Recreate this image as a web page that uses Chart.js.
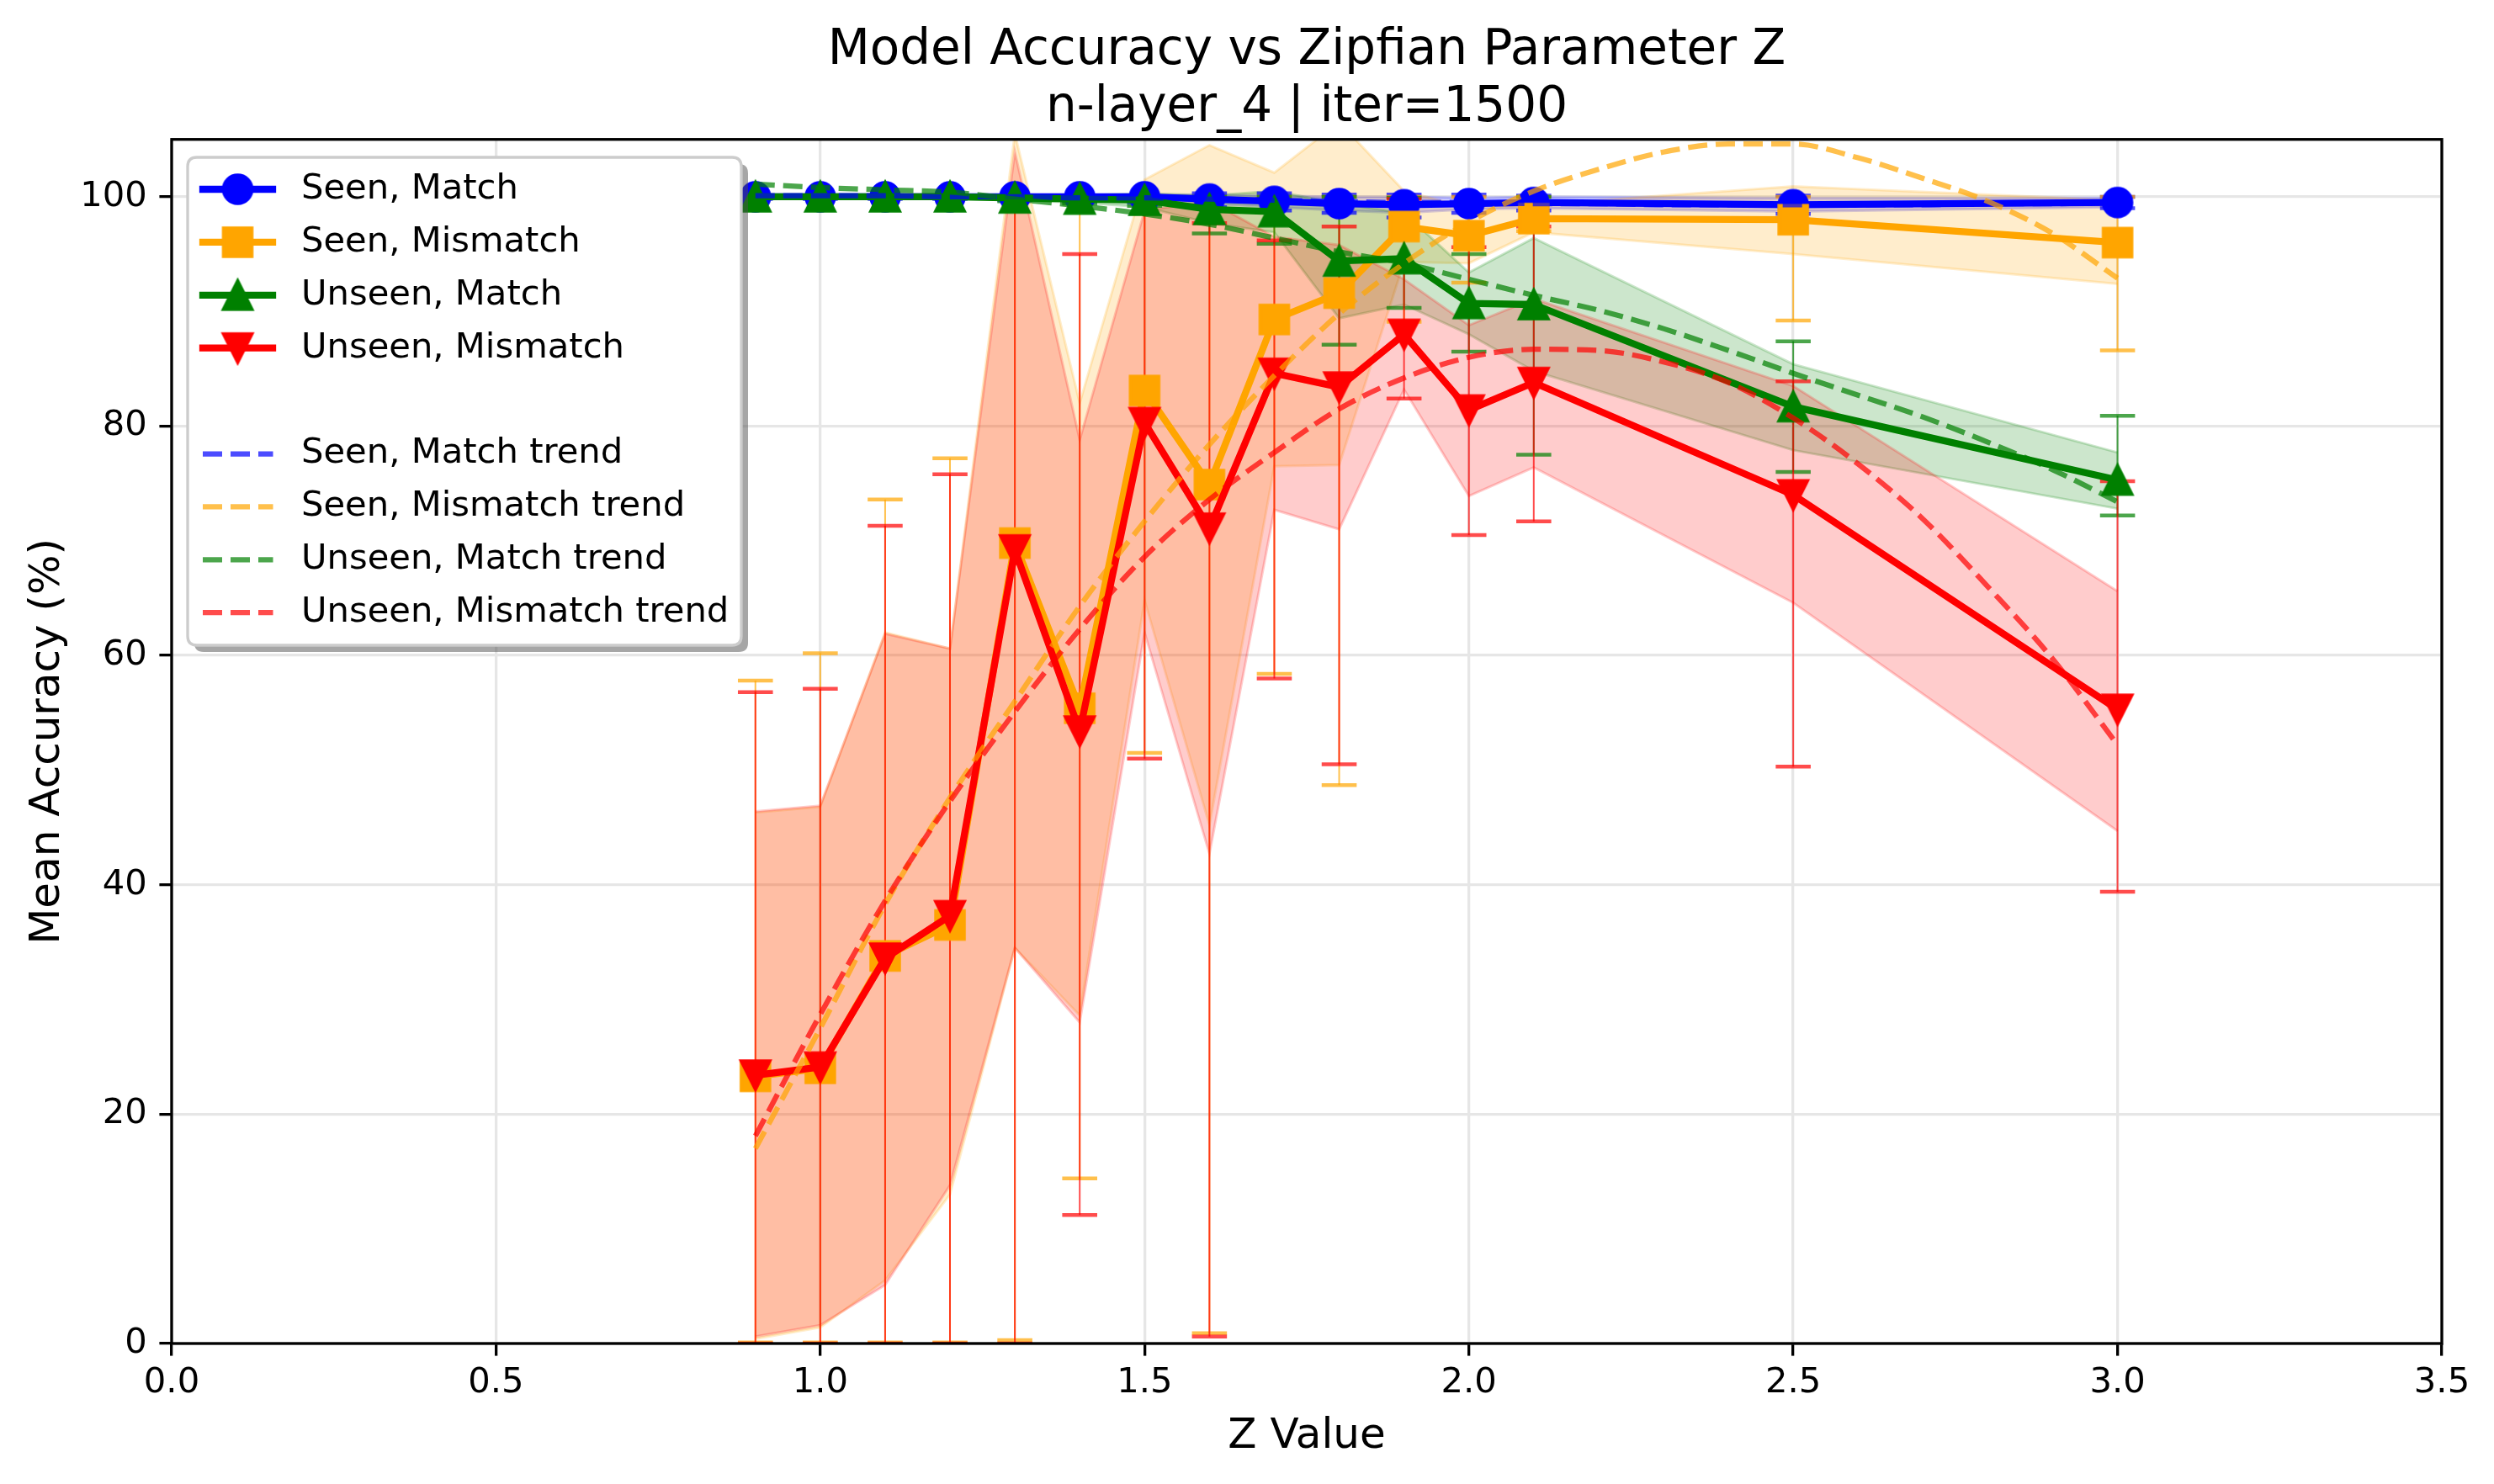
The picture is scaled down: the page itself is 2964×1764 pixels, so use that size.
<!DOCTYPE html>
<html>
<head>
<meta charset="utf-8">
<script src="https://cdn.jsdelivr.net/npm/chart.js@4.4.1/dist/chart.umd.min.js"></script>
<style>
html,body{margin:0;padding:0;background:#ffffff;}
canvas{display:block;}
</style>
</head>
<body>
<canvas id="chart" width="2964" height="1764" style="width:2964px;height:1764px"></canvas>
<script>
// ---------------- data ----------------
const zValues = [0.9, 1.0, 1.1, 1.2, 1.3, 1.4, 1.5, 1.6, 1.7, 1.8, 1.9, 2.0, 2.1, 2.5, 3.0];

const seenMatchMean   = [100, 100, 100, 100, 100, 100, 100, 99.8, 99.6, 99.4, 99.3, 99.4, 99.5, 99.3, 99.5];
const seenMatchBandLo = [99.9, 99.9, 99.9, 99.9, 99.9, 99.9, 99.8, 99.4, 99.1, 98.8, 98.6, 98.9, 99.0, 98.7, 99.1];
const seenMatchBandHi = [100.1, 100.1, 100.1, 100.1, 100.1, 100.1, 100.2, 100.2, 100.1, 100.0, 100.0, 99.9, 100.0, 99.9, 99.9];
const seenMatchErrLo  = [99.8, 99.8, 99.8, 99.8, 99.7, 99.6, 99.5, 99.1, 98.8, 98.6, 98.2, 98.6, 98.8, 98.5, 99.0];
const seenMatchErrHi  = [100, 100, 100, 100, 100, 100, 100, 100.3, 100.3, 100.2, 100.2, 100.2, 100.1, 100.1, 100];

const seenMismatchMean   = [23.3, 24.0, 33.8, 36.5, 69.8, 55.4, 83.1, 74.9, 89.3, 91.6, 97.4, 96.6, 98.1, 98.0, 96.0];
const seenMismatchBandLo = [0.4, 1.4, 5.5, 13.0, 34.5, 28.6, 64.8, 45.2, 76.5, 76.6, 94.3, 94.2, 96.9, 95.0, 92.4];
const seenMismatchBandHi = [46.3, 46.8, 62.0, 60.6, 105.5, 82.0, 101.5, 104.5, 102.1, 106.5, 100.5, 99.0, 99.3, 100.9, 99.7];
const seenMismatchErrLo  = [0.1, 0.1, 0.1, 0.1, 0.3, 14.4, 51.5, 0.9, 58.4, 48.7, 89.1, 92.5, 97.0, 89.2, 86.6];
const seenMismatchErrHi  = [57.8, 60.2, 73.6, 77.2, 100, 100, 100, 100, 100, 100, 100, 100, 100, 100, 100];

const unseenMatchMean   = [100, 100, 100, 100, 99.9, 99.8, 99.7, 98.9, 98.7, 94.4, 94.6, 90.7, 90.6, 81.7, 75.3];
const unseenMatchBandLo = [99.95, 99.95, 99.95, 99.95, 99.7, 99.5, 99.1, 97.7, 96.9, 89.4, 90.6, 88.0, 84.8, 77.9, 72.8];
const unseenMatchBandHi = [100.05, 100.05, 100.05, 100.05, 100.1, 100.1, 100.3, 100.1, 100.5, 99.4, 98.6, 93.4, 96.4, 85.4, 77.7];
const unseenMatchErrLo  = [99.9, 99.9, 99.9, 99.9, 99.6, 99.4, 99.2, 96.8, 95.9, 87.1, 90.3, 86.5, 77.5, 76.0, 72.2];
const unseenMatchErrHi  = [100, 100, 100, 100, 100, 100, 100, 100, 100, 100, 99.9, 95.0, 100, 87.4, 80.9];

const unseenMismatchMean   = [23.4, 24.1, 33.6, 37.3, 69.2, 53.4, 80.3, 71.1, 84.6, 83.4, 88.0, 81.4, 83.8, 74.0, 55.3];
const unseenMismatchBandLo = [0.6, 1.6, 5.1, 13.8, 34.5, 28.0, 62.0, 42.7, 72.7, 71.0, 83.2, 73.9, 76.4, 64.6, 44.7];
const unseenMismatchBandHi = [46.4, 46.9, 61.9, 60.6, 103.9, 78.8, 98.8, 99.6, 96.5, 95.8, 92.8, 88.8, 91.1, 83.5, 65.6];
const unseenMismatchErrLo  = [0, 0, 0, 0, 0, 11.2, 51.0, 0.6, 58.0, 50.5, 82.4, 70.5, 71.7, 50.3, 39.4];
const unseenMismatchErrHi  = [56.8, 57.1, 71.3, 75.8, 100, 95.0, 100, 97.7, 96.2, 97.4, 99.8, 95.6, 97.4, 83.9, 75.2];

const trendZ = [0.9, 1.0, 1.1, 1.2, 1.3, 1.4, 1.5, 1.6, 1.7, 1.8, 1.9, 2.0, 2.1, 2.2, 2.3, 2.4, 2.5, 2.6, 2.7, 2.8, 2.9, 3.0];
const seenMatchTrend      = [100.1, 100.1, 100.1, 100.0, 100.0, 99.9, 99.9, 99.8, 99.7, 99.6, 99.5, 99.5, 99.4, 99.4, 99.3, 99.3, 99.3, 99.3, 99.3, 99.4, 99.4, 99.5];
const seenMismatchTrend   = [17.0, 27.5, 38.3, 47.6, 56.0, 64.3, 71.7, 78.4, 84.4, 89.8, 94.2, 97.8, 100.5, 102.4, 103.9, 104.6, 104.6, 103.4, 101.6, 99.6, 96.8, 92.9];
const unseenMatchTrend    = [101.1, 100.8, 100.6, 100.4, 99.8, 99.2, 98.5, 97.6, 96.4, 95.2, 94.2, 92.8, 91.4, 90.1, 88.5, 86.6, 84.6, 82.7, 80.8, 78.6, 76.2, 73.4];
const unseenMismatchTrend = [18.1, 28.7, 38.6, 47.3, 55.1, 62.3, 68.6, 73.6, 77.7, 81.5, 84.2, 86.0, 86.7, 86.6, 85.6, 83.8, 80.7, 76.7, 71.9, 66.0, 59.7, 52.2];

const seriesLabels = ['Seen, Match', 'Seen, Mismatch', 'Unseen, Match', 'Unseen, Mismatch'];
const trendLabels  = ['Seen, Match trend', 'Seen, Mismatch trend', 'Unseen, Match trend', 'Unseen, Mismatch trend'];
const titleLines   = ['Model Accuracy vs Zipfian Parameter Z', 'n-layer_4 | iter=1500'];
const xTickValues  = [0, 0.5, 1.0, 1.5, 2.0, 2.5, 3.0, 3.5];
const yTickValues  = [0, 20, 40, 60, 80, 100];

// ---------------- styling ----------------
const FONT = 'DejaVu Sans';
const rgbs = [[0, 0, 255], [255, 165, 0], [0, 128, 0], [255, 0, 0]];
const shapes = ['circle', 'square', 'triUp', 'triDown'];
const rgba = (c, a) => `rgba(${c[0]},${c[1]},${c[2]},${a})`;

function makeMarker(shape, color) {
  const c = document.createElement('canvas');
  c.width = 50; c.height = 50;
  const g = c.getContext('2d');
  g.translate(25, 25);
  g.fillStyle = color; g.strokeStyle = color;
  g.lineWidth = 4.17; g.lineJoin = 'miter';
  const h = 16.67;
  g.beginPath();
  if (shape === 'circle') g.arc(0, 0, h, 0, Math.PI * 2);
  else if (shape === 'square') g.rect(-h, -h, 2 * h, 2 * h);
  else if (shape === 'triUp') { g.moveTo(0, -h); g.lineTo(-h, h); g.lineTo(h, h); g.closePath(); }
  else { g.moveTo(0, h); g.lineTo(-h, -h); g.lineTo(h, -h); g.closePath(); }
  g.fill(); g.stroke();
  return c;
}
const markers = shapes.map((s, i) => makeMarker(s, rgba(rgbs[i], 1)));

const series = [
  {mean: seenMatchMean, lo: seenMatchBandLo, hi: seenMatchBandHi, elo: seenMatchErrLo, ehi: seenMatchErrHi, trend: seenMatchTrend},
  {mean: seenMismatchMean, lo: seenMismatchBandLo, hi: seenMismatchBandHi, elo: seenMismatchErrLo, ehi: seenMismatchErrHi, trend: seenMismatchTrend},
  {mean: unseenMatchMean, lo: unseenMatchBandLo, hi: unseenMatchBandHi, elo: unseenMatchErrLo, ehi: unseenMatchErrHi, trend: unseenMatchTrend},
  {mean: unseenMismatchMean, lo: unseenMismatchBandLo, hi: unseenMismatchBandHi, elo: unseenMismatchErrLo, ehi: unseenMismatchErrHi, trend: unseenMismatchTrend}
];

const pts = (xs, ys) => xs.map((x, i) => ({x: x, y: ys[i]}));

const datasets = [];
// bands (lowest layer)
series.forEach((s, i) => {
  const lowIdx = datasets.length;
  datasets.push({
    label: seriesLabels[i] + ' band low', data: pts(zValues, s.lo),
    borderColor: rgba(rgbs[i], 0.2), borderWidth: 3, pointRadius: 0, fill: false, clip: 0
  });
  datasets.push({
    label: seriesLabels[i] + ' band', data: pts(zValues, s.hi),
    borderColor: rgba(rgbs[i], 0.2), borderWidth: 3, pointRadius: 0,
    backgroundColor: rgba(rgbs[i], 0.2), fill: lowIdx, clip: 0
  });
});
// error bars
series.forEach((s, i) => {
  const data = [];
  zValues.forEach((x, k) => { data.push({x: x, y: s.elo[k]}, {x: x, y: s.ehi[k]}, {x: x, y: null}); });
  datasets.push({
    label: seriesLabels[i] + ' error', data: data,
    borderColor: rgba(rgbs[i], 0.7), borderWidth: 2,
    pointStyle: 'line', pointRadius: 20.8, pointBorderWidth: 4.5,
    pointBorderColor: rgba(rgbs[i], 0.7), pointBackgroundColor: rgba(rgbs[i], 0.7),
    spanGaps: false, fill: false, clip: 0
  });
});
// main lines with markers
series.forEach((s, i) => {
  datasets.push({
    label: seriesLabels[i], data: pts(zValues, s.mean),
    borderColor: rgba(rgbs[i], 1), borderWidth: 8.3, borderJoinStyle: 'round',
    pointStyle: markers[i], pointRadius: 18, fill: false
  });
});
// trends (top)
series.forEach((s, i) => {
  datasets.push({
    label: trendLabels[i], data: pts(trendZ, s.trend),
    borderColor: rgba(rgbs[i], 0.7), borderWidth: 6.25, borderDash: [23, 10],
    pointRadius: 0, fill: false, cubicInterpolationMode: 'monotone'
  });
});
datasets.forEach((d, idx) => { d.order = datasets.length - idx; });

// ---------------- plugins ----------------
function roundRect(ctx, x, y, w, h, r) {
  ctx.beginPath();
  ctx.moveTo(x + r, y);
  ctx.lineTo(x + w - r, y); ctx.quadraticCurveTo(x + w, y, x + w, y + r);
  ctx.lineTo(x + w, y + h - r); ctx.quadraticCurveTo(x + w, y + h, x + w - r, y + h);
  ctx.lineTo(x + r, y + h); ctx.quadraticCurveTo(x, y + h, x, y + h - r);
  ctx.lineTo(x, y + r); ctx.quadraticCurveTo(x, y, x + r, y);
  ctx.closePath();
}

const legendEntries = [
  {label: seriesLabels[0], kind: 'solid', i: 0},
  {label: seriesLabels[1], kind: 'solid', i: 1},
  {label: seriesLabels[2], kind: 'solid', i: 2},
  {label: seriesLabels[3], kind: 'solid', i: 3},
  null,
  {label: trendLabels[0], kind: 'dash', i: 0},
  {label: trendLabels[1], kind: 'dash', i: 1},
  {label: trendLabels[2], kind: 'dash', i: 2},
  {label: trendLabels[3], kind: 'dash', i: 3}
];

const customPlugin = {
  id: 'custom',
  afterLayout(chart) {
    const t = chart.titleBlock, a = chart.chartArea;
    if (t) { t.left = a.left; t.right = a.right; t.width = a.right - a.left; }
  },
  afterDatasetsDraw(chart) {
    const {ctx, chartArea: a} = chart;
    ctx.save();
    ctx.strokeStyle = '#000'; ctx.lineWidth = 3.3;
    ctx.strokeRect(a.left, a.top, a.right - a.left, a.bottom - a.top);
    ctx.restore();
  },
  afterDraw(chart) {
    const ctx = chart.ctx;
    const L = 223, T = 187, W = 658, H = 580, R = 11;
    ctx.save();
    roundRect(ctx, L + 8, T + 8, W, H, R);
    ctx.fillStyle = 'rgba(77,77,77,0.5)'; ctx.fill();
    roundRect(ctx, L, T, W, H, R);
    ctx.fillStyle = '#ffffff'; ctx.fill();
    ctx.lineWidth = 3.3; ctx.strokeStyle = '#cccccc'; ctx.stroke();
    ctx.font = `41.7px "${FONT}"`;
    ctx.textBaseline = 'middle'; ctx.textAlign = 'left';
    legendEntries.forEach((e, k) => {
      if (!e) return;
      const y = 225 + k * 62.9;
      ctx.beginPath();
      if (e.kind === 'solid') {
        ctx.setLineDash([]);
        ctx.lineCap = 'square';
        ctx.strokeStyle = rgba(rgbs[e.i], 1); ctx.lineWidth = 8.3;
        ctx.moveTo(241, y); ctx.lineTo(324, y); ctx.stroke();
        const m = markers[e.i];
        ctx.drawImage(m, 282.5 - m.width / 2, y - m.height / 2);
      } else {
        ctx.setLineDash([23, 10]);
        ctx.lineCap = 'butt';
        ctx.strokeStyle = rgba(rgbs[e.i], 0.7); ctx.lineWidth = 6.25;
        ctx.moveTo(241, y); ctx.lineTo(324.5, y); ctx.stroke();
        ctx.setLineDash([]);
      }
      ctx.fillStyle = '#000';
      ctx.fillText(e.label, 358, y);
    });
    ctx.restore();
  }
};

// ---------------- chart ----------------
Chart.defaults.font.family = FONT;
Chart.defaults.color = '#000';

new Chart(document.getElementById('chart'), {
  type: 'line',
  data: {datasets: datasets},
  plugins: [customPlugin],
  options: {
    responsive: false,
    animation: false,
    devicePixelRatio: 1,
    layout: {padding: {left: 0, right: 62, top: 0, bottom: 0}},
    elements: {line: {tension: 0}},
    plugins: {
      legend: {display: false},
      tooltip: {enabled: false},
      title: {
        display: true, text: titleLines, color: '#000',
        font: {size: 58, family: FONT, weight: 'normal', lineHeight: 1.17},
        padding: {top: 27, bottom: 3}
      }
    },
    scales: {
      x: {
        type: 'linear', min: 0, max: 3.5,
        afterFit(scale) { scale.height = 167; },
        afterBuildTicks(scale) { scale.ticks = xTickValues.map(v => ({value: v})); },
        ticks: {
          callback: v => Number(v).toFixed(1), font: {size: 41.7, family: FONT},
          color: '#000', padding: 8, maxRotation: 0, autoSkip: false
        },
        grid: {color: '#e6e6e6', lineWidth: 3.3, drawTicks: true, tickLength: 14.6, tickWidth: 3.3, tickColor: '#000'},
        border: {display: false},
        title: {display: true, text: 'Z Value', color: '#000', font: {size: 50, family: FONT}, padding: {top: 0, bottom: 26}}
      },
      y: {
        type: 'linear', min: 0, max: 105,
        afterFit(scale) { scale.width = 204; },
        afterBuildTicks(scale) { scale.ticks = yTickValues.map(v => ({value: v})); },
        ticks: {
          callback: v => String(v), font: {size: 41.7, family: FONT},
          color: '#000', padding: 14.6, autoSkip: false
        },
        grid: {color: '#e6e6e6', lineWidth: 3.3, drawTicks: true, tickLength: 14.6, tickWidth: 3.3, tickColor: '#000'},
        border: {display: false},
        title: {display: true, text: 'Mean Accuracy (%)', color: '#000', font: {size: 50, family: FONT}, padding: {top: 27, bottom: 0}}
      }
    }
  }
});
</script>
</body>
</html>
